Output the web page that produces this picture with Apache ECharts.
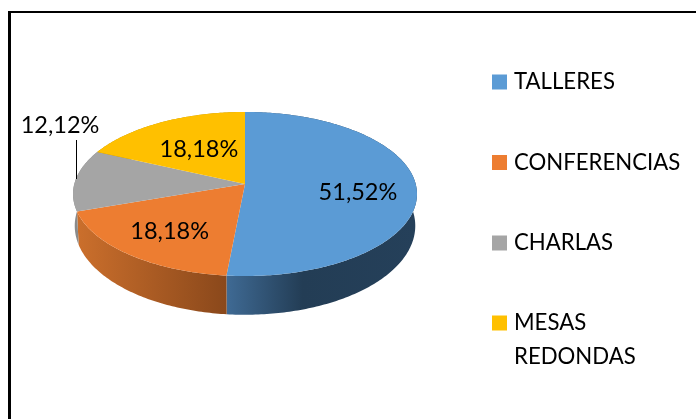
<!DOCTYPE html>
<html><head><meta charset="utf-8">
<style>html,body{margin:0;padding:0;background:#fff}#c{width:696px;height:419px}</style>
<script src="https://cdn.jsdelivr.net/npm/echarts@6/dist/echarts.min.js"></script>
</head><body><div id="c"></div>
<script>
const categories = ['TALLERES', 'CONFERENCIAS', 'CHARLAS', 'MESAS\nREDONDAS'];
const percentages = [51.52, 18.18, 12.12, 18.18];
const labels = ['51,52%', '18,18%', '12,12%', '18,18%'];
const colors = ['#5B9BD5', '#ED7D31', '#A5A5A5', '#FFC000'];
const sideStops = [
  [['0', '#3f6a94'], ['0.4', '#233d55'], ['1', '#25405a']],
  [['0', '#cb6f2c'], ['1', '#8a481b']],
  [['0', '#8a8a8a'], ['1', '#8f8f8f']],
  [['0', '#b98c00'], ['1', '#b98c00']]
];
const FONT = 'Lato';
const CX = 245, CY = 184, SX = 170.7, SY = 80.8, K = 0.122;
const DEPTH = 31, SXB = 169, SYB = 87.6;

function ring(theta, sx, sy, dy, r) {
  const u = Math.sin(theta) * r, v = -Math.cos(theta) * r, w = 1 - K * v;
  return [CX + sx * u / w, CY + dy + sy * v / w];
}
function ranges() {
  const total = percentages.reduce((a, b) => a + b, 0);
  let acc = 0;
  return percentages.map(p => {
    const a = acc / total * Math.PI * 2; acc += p;
    return [a, acc / total * Math.PI * 2];
  });
}
function arcPts(a, b, sx, sy, dy) {
  const n = Math.max(2, Math.ceil((b - a) / 0.015)), pts = [];
  for (let i = 0; i <= n; i++) pts.push(ring(a + (b - a) * i / n, sx, sy, dy, 1));
  return pts;
}
const spans = ranges();

const sideSeries = {
  type: 'custom', name: 'side', silent: true, coordinateSystem: 'none', z: 1,
  data: percentages,
  renderItem(params) {
    const i = params.dataIndex, [a, b] = spans[i];
    const top = arcPts(a, b, SX, SY, 0), bottom = arcPts(a, b, SXB, SYB, DEPTH).reverse();
    const pts = top.concat(bottom);
    const xs = pts.map(p => p[0]);
    return {
      type: 'polygon', shape: { points: pts },
      style: {
        fill: {
          type: 'linear', x: Math.min(...xs), y: 0, x2: Math.max(...xs), y2: 0, global: true,
          colorStops: sideStops[i].map(s => ({ offset: +s[0], color: s[1] }))
        }
      }
    };
  }
};

const labelRadius = [0.66, 0.66, 0, 0.55];
const labelShift = [[0, 6], [-1, 3], [-185, -59], [2, 1]];

const faceSeries = categories.map((name, i) => ({
  type: 'custom', name, coordinateSystem: 'none', z: 2,
  itemStyle: { color: colors[i] },
  data: [percentages[i]],
  renderItem() {
    const [a, b] = spans[i];
    const pts = [[CX, CY]].concat(arcPts(a, b, SX, SY, 0));
    const mid = (a + b) / 2;
    const lp = ring(mid, SX, SY, 0, labelRadius[i]);
    const children = [{
      type: 'polygon', shape: { points: pts }, style: { fill: colors[i] }
    }, {
      type: 'text', z2: 5,
      style: {
        text: labels[i], x: lp[0] + labelShift[i][0], y: lp[1] + labelShift[i][1],
        align: 'center', verticalAlign: 'middle',
        font: '23.5px ' + FONT, fill: '#000'
      }
    }];
    if (i === 2) {
      children.push({
        type: 'line', z2: 5,
        shape: { x1: 76.5, y1: 140, x2: 76.5, y2: 179 },
        style: { stroke: '#000', lineWidth: 1 }
      });
    }
    return { type: 'group', children };
  }
}));

const legendText = { fontFamily: FONT, fontSize: 22.2, color: '#000', lineHeight: 34, padding: [0, 0, 0, 2] };
const legendBase = {
  orient: 'vertical', left: 492, padding: 0, height: 400,
  icon: 'rect', itemWidth: 15, itemHeight: 15, selectedMode: false
};

const chart = echarts.init(document.getElementById('c'), null, { renderer: 'canvas' });
chart.setOption({
  animation: false,
  backgroundColor: '#fff',
  color: colors,
  legend: [
    Object.assign({}, legendBase, {
      top: 65, itemGap: 46.5, textStyle: legendText,
      data: categories.slice(0, 3)
    }),
    Object.assign({}, legendBase, {
      top: 272, textStyle: legendText,
      formatter: name => '\n' + name,
      data: categories.slice(3)
    })
  ],
  graphic: [
    { type: 'line', shape: { x1: 9.5, y1: 12, x2: 9.5, y2: 419 }, style: { stroke: '#000', lineWidth: 3 } },
    { type: 'line', shape: { x1: 8, y1: 12, x2: 696, y2: 12 }, style: { stroke: '#000', lineWidth: 2 } }
  ],
  series: [sideSeries].concat(faceSeries)
});
</script></body></html>
